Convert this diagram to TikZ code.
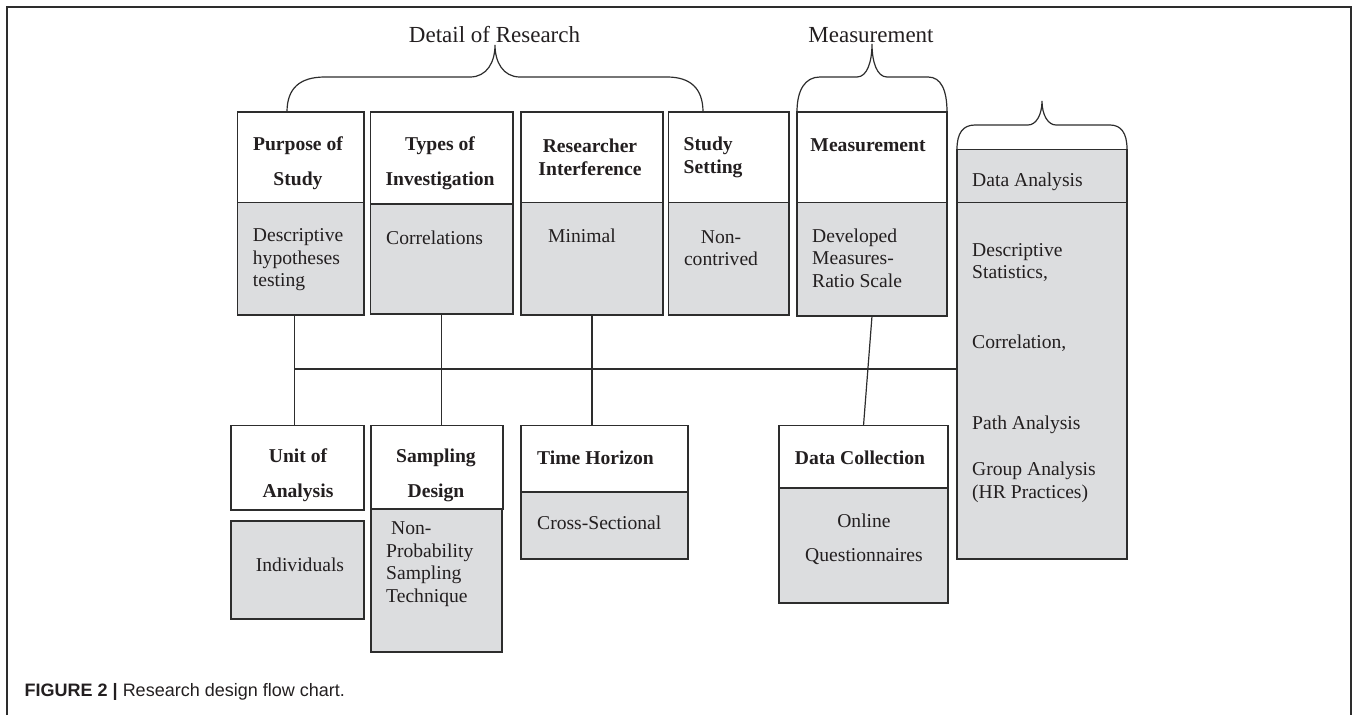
\documentclass[tikz,border=0pt]{standalone}
\usepackage{fontspec}
\setmainfont{Liberation Serif}
\newfontfamily\capfont{Liberation Sans}
\definecolor{boxgray}{RGB}{220,221,223}
\definecolor{lc}{RGB}{45,45,45}
\definecolor{tc}{RGB}{35,31,32}

\begin{document}
\begin{tikzpicture}[x=1pt, y=-1pt,
    hd/.style={draw=lc, fill=white, line width=1.4pt, anchor=north west, inner sep=0pt, outer sep=0pt},
    bd/.style={hd, fill=boxgray},
    sz/.style 2 args={minimum width=#1, minimum height=#2},
    hdtxt/.style={font=\fontsize{19.6}{23}\selectfont\bfseries, text=tc, inner sep=0pt, align=center},
    hdtxtw/.style={hdtxt, font=\fontsize{19.6}{35}\selectfont\bfseries},
    bdtxt/.style={font=\fontsize{19.6}{22.5}\selectfont, text=tc, inner sep=0pt, align=left},
    ttl/.style={font=\fontsize{23}{27}\selectfont, text=tc, inner sep=0pt},
    brc/.style={draw=lc, line width=1.2pt},
    link/.style={draw=lc, line width=1.2pt},
    frm/.style={draw=lc, line width=1.3pt}]
\useasboundingbox (0,0) rectangle (1357,715);
\draw[frm] (7,715) -- (7,7) -- (1351,7) -- (1351,715);

\node[ttl] (dor) at (494.5,35) {Detail of Research};
\node[ttl] (msrh) at (871,35) {Measurement};

\draw[brc] (287,112) .. controls (287,88) and (300,77) .. (325,77) -- (470,77)
    .. controls (487,77) and (495,62) .. (495,45) .. controls (495,62) and (503,77) .. (520,77)
    -- (667,77) .. controls (690,77) and (703,88) .. (703,112);
\draw[brc] (797,112) .. controls (797,90) and (805,77) .. (820,77) -- (857,77)
    .. controls (867,77) and (872,62) .. (872,44) .. controls (872,62) and (877,77) .. (887,77)
    -- (928,77) .. controls (941,77) and (947,90) .. (947,112);
\draw[brc] (957,149) .. controls (957,133) and (963,125) .. (975,125) -- (1028,125)
    .. controls (1036,125) and (1042,115) .. (1042,101) .. controls (1042,115) and (1048,125) .. (1056,125)
    -- (1110,125) .. controls (1121,125) and (1127,133) .. (1127,149);

\node[hd, sz={126.3pt}{90.7pt}] (purp) at (237.7,112) {};
\node[bd, sz={126.3pt}{112.3pt}] (purpb) at (237.7,202.7) {};
\node[hd, sz={142.3pt}{92pt}] (typ) at (370.7,112) {};
\node[bd, sz={142.3pt}{110pt}] (typb) at (370.7,204) {};
\node[hd, sz={142pt}{90.7pt}] (rsr) at (521,112) {};
\node[bd, sz={142pt}{112.3pt}] (rsrb) at (521,202.7) {};
\node[hd, sz={120.3pt}{90.7pt}] (sts) at (668.7,112) {};
\node[bd, sz={120.3pt}{112.3pt}] (stsb) at (668.7,202.7) {};
\node[hd, sz={150pt}{90.7pt}] (msr) at (797,112) {};
\node[bd, sz={150pt}{113.3pt}] (msrb) at (797,202.7) {};
\node[bd, sz={170pt}{53pt}] (dta) at (957,149.7) {};
\node[bd, sz={170pt}{356.3pt}] (dtab) at (957,202.7) {};

\node[hd, sz={133pt}{84.3pt}] (unit) at (231,425.7) {};
\node[bd, sz={133pt}{98pt}] (unitb) at (231,521) {};
\node[hd, sz={132pt}{83.3pt}] (smp) at (371,425.7) {};
\node[bd, sz={131pt}{143pt}] (smpb) at (371,509) {};
\node[hd, sz={167pt}{66.3pt}] (tim) at (521,425.7) {};
\node[bd, sz={167pt}{67pt}] (timb) at (521,492) {};
\node[hd, sz={169pt}{62.3pt}] (dcol) at (779,425.7) {};
\node[bd, sz={169pt}{115pt}] (dcolb) at (779,488) {};

\node[hdtxtw] (purpt) at (298,163) {Purpose of\\Study};
\node[hdtxtw] (typt) at (440,163) {Types of\\Investigation};
\node[hdtxt] (rsrt) at (590,157) {Researcher\\Interference};
\node[hdtxt, anchor=west, align=left] (stst) at (683.5,157) {Study\\Setting};
\node[hdtxt] (msrt) at (868,145) {Measurement};
\node[bdtxt, anchor=west] (dtat) at (972,182) {Data Analysis};

\node[bdtxt, anchor=west] (purpbt) at (252.7,260) {Descriptive\\hypotheses\\testing};
\node[bdtxt, anchor=west] (typbt) at (386,238) {Correlations};
\node[bdtxt, anchor=west] (rsrbt) at (548,236) {Minimal};
\node[bdtxt, align=center] (stsbt) at (721,248) {Non-\\contrived};
\node[bdtxt, anchor=west] (msrbt) at (812,258) {Developed\\Measures-\\Ratio Scale};
\node[bdtxt, anchor=north west] (dtabt) at (972,243) {Descriptive\\Statistics,\\[47.5pt]Correlation,\\[58.5pt]Path Analysis\\[23.5pt]Group Analysis\\(HR Practices)};

\node[hdtxtw] (unitt) at (298,475.5) {Unit of\\Analysis};
\node[hdtxtw] (smpt) at (436,475.5) {Sampling\\Design};
\node[hdtxt, anchor=west] (timt) at (537,458) {Time Horizon};
\node[hdtxt] (dcolt) at (860,458) {Data Collection};
\node[bdtxt] (unitbt) at (300,565) {Individuals};
\node[bdtxt, anchor=west] (smpbt) at (386,564) {\hspace*{5pt}Non-\\Probability\\Sampling\\Technique};
\node[bdtxt, anchor=west] (timbt) at (537,523) {Cross-Sectional};
\node[bdtxt, align=center, font=\fontsize{19.6}{34}\selectfont] (dcolbt) at (864,539) {Online\\Questionnaires};

\coordinate (bus) at (0,369);
\coordinate (pu) at ([xshift=-6pt]purpb.south);
\draw[link] (pu) -- (pu |- unit.north);
\draw[link] (typb.south) -- (typb.south |- smp.north);
\draw[link] (rsrb.south) -- (rsrb.south |- tim.north);
\draw[link] (pu |- bus) -- (dtab.west |- bus);
\draw[link] (msrb.south) -- (dcol.north);

\node[font={\capfont\fontsize{18}{21}\selectfont}, text=tc, anchor=west, inner sep=0pt] (cap) at (24.5,692) {\textbf{FIGURE 2 |} Research design flow chart.};
\end{tikzpicture}
\end{document}
